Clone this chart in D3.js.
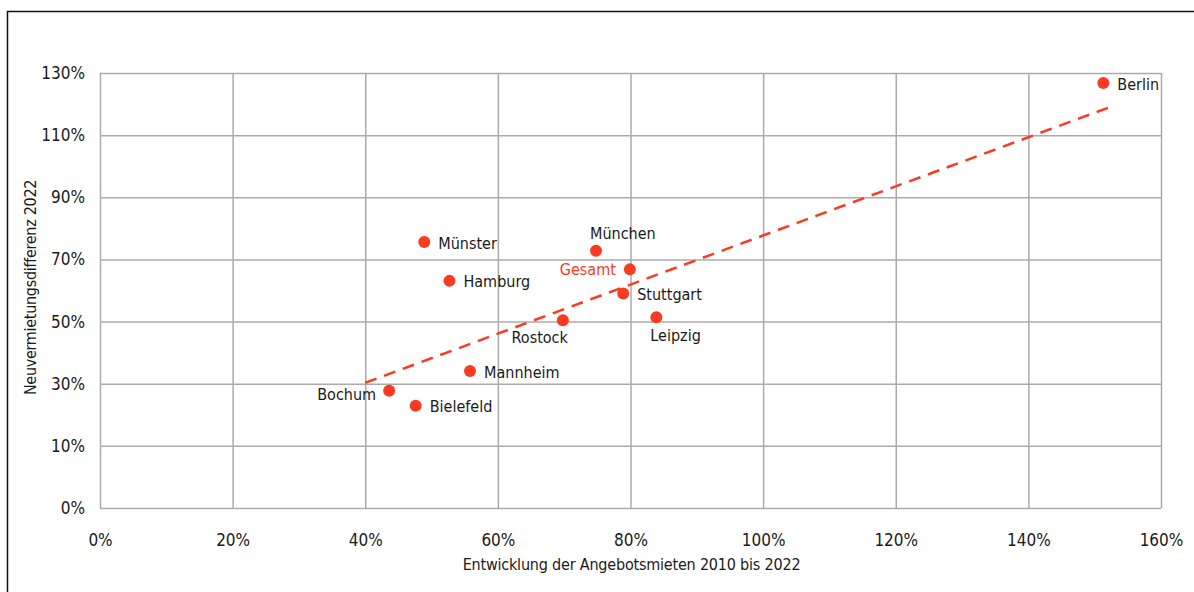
<!DOCTYPE html>
<html>
<head>
<meta charset="utf-8">
<script src="https://cdn.jsdelivr.net/npm/d3@7"></script>
<style>
  html, body { margin: 0; padding: 0; background: #fff; }
  svg { display: block; }
  text { font-family: "Liberation Sans Narrow", "DejaVu Sans Condensed", sans-serif; fill: #1a1a1a; }
</style>
</head>
<body>
<div id="chart"></div>
<script>
// Data (percent values)
const cities = ['Berlin', 'Münster', 'München', 'Gesamt', 'Hamburg', 'Stuttgart', 'Leipzig', 'Rostock', 'Mannheim', 'Bochum', 'Bielefeld'];
const rentGrowth = [151.3, 48.9, 74.8, 79.9, 52.7, 78.9, 83.9, 69.8, 55.8, 43.6, 47.6];
const newLeaseDiff = [126.8, 75.6, 72.8, 66.8, 63.1, 59.0, 51.4, 50.4, 34.1, 27.7, 22.9];
const trendX = [40, 152];
const trendY = [30.3, 118.8];
const xTicks = [0, 20, 40, 60, 80, 100, 120, 140, 160];
const yTicks = [-10, 10, 30, 50, 70, 90, 110, 130];
const yTickLabels = ['0%', '10%', '30%', '50%', '70%', '90%', '110%', '130%'];

// where each label sits around its dot
const labelSide = {
  'Berlin': 'right', 'Münster': 'right', 'Hamburg': 'right', 'Mannheim': 'right',
  'Bielefeld': 'right', 'Stuttgart': 'right', 'München': 'above', 'Gesamt': 'left',
  'Rostock': 'belowLeft', 'Leipzig': 'below', 'Bochum': 'leftLow'
};

const width = 1194, height = 592;
const margin = { top: 73, right: 33, bottom: 84, left: 100 };
const red = '#fb3a22';

const svg = d3.select('#chart').append('svg')
  .attr('width', width)
  .attr('height', height);

// outer frame
svg.append('rect')
  .attr('x', 7.5).attr('y', 11.5)
  .attr('width', width + 20).attr('height', height + 20)
  .attr('fill', 'none')
  .attr('stroke', '#111')
  .attr('stroke-width', 1.5);

const g = svg.append('g')
  .attr('transform', `translate(${margin.left},${margin.top})`);

const w = width - margin.left - margin.right;
const h = height - margin.top - margin.bottom;

const x = d3.scaleLinear().domain([0, 160]).range([0, w]);
const y = d3.scaleLinear().domain([-10, 130]).range([h, 0]);

// grid
g.append('g')
  .call(d3.axisBottom(x).tickValues(xTicks).tickSize(-h).tickFormat(''))
  .attr('transform', `translate(0,${h})`)
  .call(ax => ax.select('.domain').remove())
  .selectAll('line').attr('stroke', '#ababab').attr('stroke-width', 1.5);

g.append('g')
  .call(d3.axisLeft(y).tickValues(yTicks).tickSize(-w).tickFormat(''))
  .call(ax => ax.select('.domain').remove())
  .selectAll('line').attr('stroke', '#ababab').attr('stroke-width', 1.5);

// tick labels
g.append('g')
  .attr('transform', `translate(0,${h})`)
  .call(d3.axisBottom(x).tickValues(xTicks).tickSize(0).tickPadding(26).tickFormat(d => d + '%'))
  .call(ax => ax.select('.domain').remove())
  .selectAll('text')
  .style('font-size', '17px')
  .attr('fill', '#1a1a1a');

g.append('g')
  .call(d3.axisLeft(y).tickValues(yTicks).tickSize(0).tickPadding(15).tickFormat((d, i) => yTickLabels[i]))
  .call(ax => ax.select('.domain').remove())
  .selectAll('text')
  .style('font-size', '17px')
  .attr('fill', '#1a1a1a');

// axis titles
g.append('text')
  .attr('x', w / 2 + 1)
  .attr('y', h + 62)
  .attr('text-anchor', 'middle')
  .style('font-size', '16px')
  .style('letter-spacing', '-0.2px')
  .text('Entwicklung der Angebotsmieten 2010 bis 2022');

g.append('text')
  .attr('transform', 'rotate(-90)')
  .attr('x', -(h / 2) + 3)
  .attr('y', -64)
  .attr('text-anchor', 'middle')
  .style('font-size', '16px')
  .style('letter-spacing', '-0.3px')
  .text('Neuvermietungsdifferenz 2022');

// trend line
const trend = trendX.map((v, i) => [v, trendY[i]]);
g.append('path')
  .datum(trend)
  .attr('fill', 'none')
  .attr('stroke', red)
  .attr('stroke-width', 2.5)
  .attr('stroke-dasharray', '12,8')
  .attr('d', d3.line().x(d => x(d[0])).y(d => y(d[1])));

// points
const points = cities.map((name, i) => ({ name, vx: rentGrowth[i], vy: newLeaseDiff[i] }));

g.selectAll('circle.pt')
  .data(points)
  .join('circle')
  .attr('class', 'pt')
  .attr('cx', d => x(d.vx))
  .attr('cy', d => y(d.vy))
  .attr('r', 6)
  .attr('fill', red);

const offsets = {
  right: { dx: 14, dy: 1, anchor: 'start' },
  left: { dx: -14, dy: 0, anchor: 'end' },
  leftLow: { dx: -13, dy: 4, anchor: 'end' },
  above: { dx: -6, dy: -17, anchor: 'start' },
  below: { dx: -6, dy: 18, anchor: 'start' },
  belowLeft: { dx: 5, dy: 17, anchor: 'end' }
};

g.selectAll('text.lbl')
  .data(points)
  .join('text')
  .attr('class', 'lbl')
  .attr('x', d => x(d.vx) + offsets[labelSide[d.name]].dx)
  .attr('y', d => y(d.vy) + offsets[labelSide[d.name]].dy)
  .attr('dy', '0.35em')
  .attr('text-anchor', d => offsets[labelSide[d.name]].anchor)
  .style('font-size', '16px')
  .style('fill', d => d.name === 'Gesamt' ? red : '#1a1a1a')
  .text(d => d.name);
</script>
</body>
</html>
